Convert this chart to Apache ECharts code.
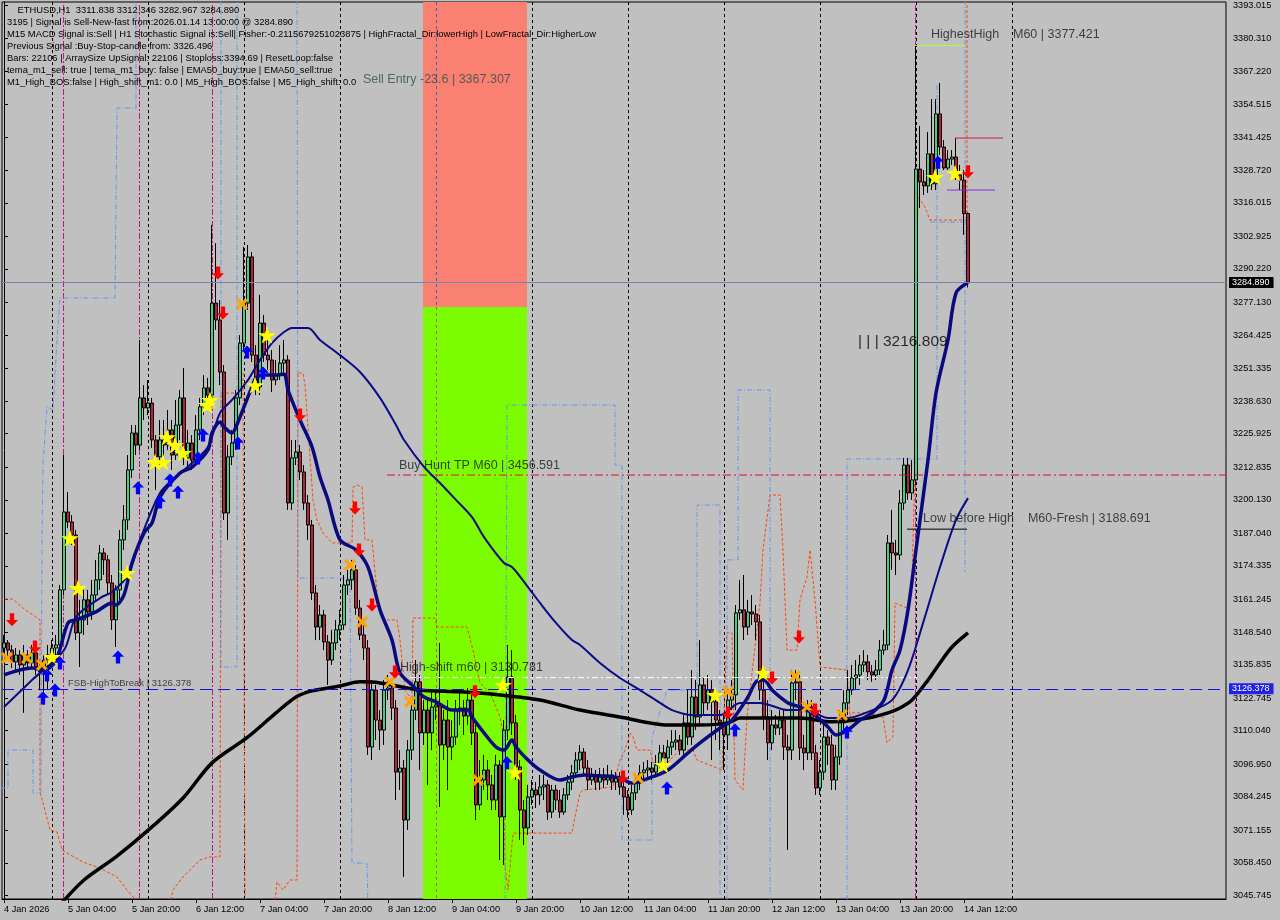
<!DOCTYPE html>
<html><head><meta charset="utf-8">
<script src="https://cdn.jsdelivr.net/npm/echarts@6/dist/echarts.min.js"></script>
<style>html,body{margin:0;padding:0;background:#c0c0c0;}#c{width:1280px;height:920px;}</style>
</head><body><div id="c"></div>
<script>
// ---------- DATA ----------
const headerLines = [
  '    ETHUSD,H1  3311.838 3312.346 3282.967 3284.890',
  '3195 | Signal is Sell-New-fast from:2026.01.14 13:00:00 @ 3284.890',
  'M15 MACD Signal is:Sell | H1 Stochastic Signal is:Sell| Fisher:-0.2115679251023875 | HighFractal_Dir:lowerHigh | LowFractal_Dir:HigherLow',
  'Previous Signal :Buy-Stop-candle from: 3326.496',
  'Bars: 22106 | ArraySize UpSignal: 22106 | Stoploss:3394.69 | ResetLoop:false',
  'tema_m1_sell: true | tema_m1_buy: false | EMA50_buy:true | EMA50_sell:true',
  'M1_High_BOS:false | High_shift_m1: 0.0 | M5_High_BOS:false | M5_High_shift: 0.0'
];
const tickLabels = ['4 Jan 2026','5 Jan 04:00','5 Jan 20:00','6 Jan 12:00','7 Jan 04:00','7 Jan 20:00','8 Jan 12:00','9 Jan 04:00','9 Jan 20:00','10 Jan 12:00','11 Jan 04:00','11 Jan 20:00','12 Jan 12:00','13 Jan 04:00','13 Jan 20:00','14 Jan 12:00'];
const priceTicks = [3393.015,3380.310,3367.220,3354.515,3341.425,3328.720,3316.015,3302.925,3290.220,3277.130,3264.425,3251.335,3238.630,3225.925,3212.835,3200.130,3187.040,3174.335,3161.245,3148.540,3135.835,3122.745,3110.040,3096.950,3084.245,3071.155,3058.450,3045.745];

const firstOpen = 3142.3;
const closes = [
3144.3,3141.5,3136.9,3139.6,3135.7,3139.6,3136.5,3140.4,3134.9,3133.0,
3137.6,3139.6,3142.3,3143.5,3165.0,3195.4,3191.5,3186.4,3148.2,3153.3,
3161.1,3156.4,3163.0,3168.9,3179.4,3176.7,3167.7,3153.3,3165.0,3184.5,
3192.3,3211.8,3226.2,3221.5,3239.9,3236.0,3237.9,3223.5,3216.9,3223.5,
3221.5,3227.4,3217.6,3229.3,3239.9,3216.5,3222.3,3215.7,3227.4,3236.4,
3243.8,3241.0,3276.9,3270.3,3250.0,3195.0,3216.9,3222.3,3239.9,3261.3,
3276.9,3294.9,3256.6,3244.2,3269.1,3256.6,3254.7,3246.9,3248.8,3253.5,
3254.7,3198.9,3216.5,3218.8,3211.0,3198.9,3190.3,3163.8,3150.5,3155.2,
3144.7,3137.6,3144.3,3149.4,3151.3,3166.9,3168.9,3172.8,3157.9,3147.4,
3142.3,3103.7,3125.9,3114.2,3110.3,3125.9,3126.7,3118.9,3093.9,3095.5,
3075.2,3102.5,3118.1,3129.1,3109.2,3118.1,3109.2,3119.3,3120.1,3104.5,
3114.2,3103.7,3107.6,3118.1,3118.9,3115.8,3122.0,3109.2,3081.1,3090.8,
3094.7,3088.9,3083.0,3096.7,3076.4,3110.3,3131.0,3113.1,3095.9,3079.1,
3072.1,3084.2,3086.9,3085.0,3088.1,3088.9,3078.3,3086.9,3083.0,3078.3,
3085.0,3090.0,3093.6,3098.6,3101.7,3095.5,3090.8,3092.4,3090.0,3092.8,
3090.8,3092.8,3090.0,3091.6,3088.1,3084.2,3079.1,3085.8,3089.6,3093.6,
3094.7,3095.5,3093.9,3096.7,3101.4,3099.4,3103.7,3105.6,3106.4,3102.5,
3113.1,3107.6,3123.2,3115.4,3127.9,3120.9,3125.9,3121.3,3114.2,3112.3,
3108.4,3122.0,3124.0,3156.0,3157.2,3150.5,3156.4,3155.6,3152.5,3125.9,
3115.4,3105.3,3112.3,3111.1,3114.2,3103.7,3102.5,3128.7,3129.1,3103.3,
3101.4,3119.3,3101.4,3087.7,3093.9,3107.6,3104.5,3090.8,3099.8,3113.1,
3120.9,3125.9,3130.6,3131.8,3135.7,3136.9,3133.0,3131.8,3133.7,3141.5,
3143.5,3183.3,3179.4,3178.6,3198.9,3213.7,3202.8,3207.9,3329.2,3324.2,
3322.6,3335.1,3323.4,3350.7,3337.8,3329.6,3333.1,3333.9,3326.9,3324.9,
3311.838,3284.890];
const highs = [
3147.4,3145.4,3143.5,3142.3,3141.5,3143.5,3141.5,3143.5,3142.3,3137.6,
3139.6,3143.5,3145.4,3147.4,3166.9,3217.6,3203.2,3194.2,3188.4,3161.1,
3165.0,3165.0,3168.9,3176.7,3182.5,3181.3,3178.6,3170.8,3166.9,3188.4,
3198.1,3217.6,3229.3,3229.3,3262.5,3244.9,3246.9,3239.9,3225.4,3231.3,
3231.3,3235.2,3231.3,3239.1,3243.0,3251.6,3227.4,3225.4,3233.2,3239.9,
3248.8,3247.7,3307.4,3300.3,3278.1,3252.7,3221.5,3227.4,3243.0,3264.4,
3298.8,3299.6,3296.8,3260.5,3280.1,3272.3,3262.5,3258.6,3254.7,3260.5,
3262.5,3256.6,3223.5,3223.5,3221.5,3213.7,3202.0,3192.3,3166.9,3159.1,
3157.2,3147.4,3149.4,3153.3,3157.2,3170.8,3172.8,3176.7,3174.7,3161.1,
3151.3,3145.4,3129.8,3127.9,3118.1,3129.8,3131.8,3129.8,3122.0,3102.5,
3098.6,3106.4,3122.0,3137.6,3131.8,3122.0,3122.0,3125.9,3125.9,3144.3,
3118.1,3122.0,3114.2,3122.0,3125.9,3122.0,3126.7,3124.0,3112.3,3098.6,
3100.6,3098.6,3092.8,3100.6,3098.6,3114.2,3143.5,3141.5,3116.2,3098.6,
3083.0,3088.9,3090.8,3090.0,3092.8,3092.8,3090.8,3088.9,3088.9,3086.9,
3087.7,3092.8,3096.7,3101.7,3104.5,3103.3,3098.6,3095.5,3094.7,3095.5,
3095.5,3096.7,3094.7,3093.9,3093.9,3090.8,3086.9,3088.9,3092.8,3096.7,
3097.8,3098.6,3097.8,3100.6,3104.5,3104.5,3106.4,3110.3,3110.3,3108.4,
3116.2,3125.9,3133.7,3129.8,3145.4,3130.6,3131.8,3129.8,3124.0,3118.1,
3116.2,3125.9,3129.8,3159.1,3168.9,3170.8,3161.1,3163.0,3159.1,3155.2,
3133.7,3122.0,3118.1,3116.2,3118.1,3118.1,3108.4,3133.7,3133.7,3131.8,
3108.4,3122.0,3122.0,3104.5,3098.6,3112.3,3110.3,3108.4,3104.5,3118.1,
3125.9,3133.7,3135.7,3137.6,3139.6,3141.5,3139.6,3135.7,3137.6,3145.4,
3149.4,3186.4,3196.2,3184.5,3204.0,3216.5,3216.5,3215.7,3377.4,3346.0,
3328.8,3343.7,3356.5,3356.5,3362.8,3340.5,3336.6,3336.6,3341.3,3330.8,
3328.8,3312.346];
const lows = [
3139.6,3137.6,3134.5,3133.7,3131.8,3117.0,3133.7,3134.5,3131.8,3125.9,
3120.1,3125.9,3135.7,3137.6,3141.5,3163.0,3189.1,3182.5,3145.4,3134.9,
3147.4,3151.3,3153.3,3161.1,3165.0,3170.8,3163.0,3149.4,3142.7,3161.1,
3180.6,3188.4,3208.7,3217.6,3219.6,3231.3,3233.2,3220.4,3204.0,3213.7,
3215.7,3219.6,3211.8,3215.7,3223.5,3213.7,3211.8,3211.8,3213.7,3223.5,
3233.2,3237.1,3239.9,3266.4,3244.9,3192.3,3184.5,3213.7,3219.6,3237.1,
3258.6,3274.2,3253.9,3241.0,3241.0,3253.9,3250.8,3242.2,3244.9,3246.9,
3250.0,3196.2,3196.2,3213.7,3207.9,3196.2,3184.5,3161.1,3145.4,3145.4,
3141.5,3127.9,3135.7,3141.5,3145.4,3149.4,3163.0,3165.0,3155.2,3145.4,
3137.6,3100.6,3098.6,3106.4,3102.5,3104.5,3122.0,3114.2,3083.0,3086.9,
3053.0,3071.3,3098.6,3114.2,3094.7,3104.5,3088.9,3102.5,3114.2,3080.3,
3098.6,3086.9,3098.6,3104.5,3112.3,3108.4,3112.3,3104.5,3075.2,3079.1,
3086.9,3083.0,3079.1,3079.1,3059.6,3057.7,3106.4,3108.4,3090.8,3067.4,
3065.5,3069.4,3081.1,3079.9,3081.1,3083.0,3075.2,3076.0,3079.1,3076.0,
3077.2,3083.0,3086.9,3091.6,3094.7,3092.8,3086.9,3088.9,3086.9,3086.9,
3087.7,3088.9,3086.9,3086.9,3085.0,3077.2,3076.0,3077.2,3083.0,3086.9,
3090.8,3091.6,3090.8,3092.8,3094.7,3094.7,3096.7,3100.6,3102.5,3100.6,
3100.6,3104.5,3104.5,3110.3,3112.3,3116.2,3118.1,3098.6,3106.4,3102.5,
3094.7,3102.5,3118.1,3118.1,3153.3,3145.4,3147.4,3151.3,3145.4,3122.0,
3110.3,3098.6,3102.5,3108.4,3108.4,3098.6,3063.5,3098.6,3122.0,3098.6,
3094.7,3098.6,3098.6,3085.0,3085.0,3090.8,3096.7,3086.9,3086.9,3096.7,
3110.3,3116.2,3124.0,3125.9,3127.9,3133.0,3129.8,3129.1,3129.8,3131.8,
3139.6,3141.5,3172.8,3170.8,3176.7,3196.2,3200.1,3200.1,3205.9,3314.0,
3319.1,3319.9,3321.0,3321.0,3334.7,3328.8,3328.8,3330.8,3324.9,3321.0,
3303.5,3282.967];

// indicator lines [slot, price]
const fastLine = [[0,3131.8],[7,3134.5],[10,3133.7],[13,3137.6],[16,3152.1],[18,3153.3],[23,3156.4],[27,3159.9],[28,3159.1],[30,3163.0],[32,3175.5],[35,3187.2],[37,3191.1],[39,3201.2],[44,3210.6],[47,3212.9],[51,3219.6],[52,3226.2],[54,3230.5],[55,3228.6],[57,3226.2],[58,3228.6],[60,3236.4],[62,3244.2],[63,3247.7],[65,3248.8],[68,3248.8],[70,3249.2],[71,3243.0],[74,3231.3],[77,3220.8],[79,3209.0],[81,3200.1],[84,3184.5],[88,3180.6],[91,3173.9],[94,3157.2],[97,3145.4],[99,3132.6],[102,3127.9],[105,3123.2],[108,3121.3],[112,3118.1],[116,3118.1],[117,3115.4],[120,3109.2],[123,3103.7],[125,3102.5],[127,3106.4],[128,3103.7],[131,3098.6],[134,3094.7],[139,3090.8],[142,3092.0],[145,3092.8],[149,3092.4],[154,3091.6],[157,3089.6],[162,3092.0],[166,3094.7],[171,3101.4],[174,3105.3],[179,3111.1],[182,3114.2],[186,3123.2],[188,3129.1],[190,3129.8],[192,3125.9],[196,3120.9],[199,3119.3],[202,3117.0],[206,3111.5],[208,3108.4],[211,3110.3],[214,3114.2],[217,3117.0],[220,3122.0],[222,3133.7],[224,3141.5],[226,3157.2],[228,3180.6],[231,3215.7],[233,3241.8],[236,3262.5],[238,3280.8],[241,3284.9]];
const midLine = [[0,3119.3],[7,3129.8],[15,3141.5],[18,3154.4],[24,3161.8],[27,3164.2],[31,3170.8],[34,3184.5],[39,3202.8],[43,3209.1],[47,3214.5],[51,3220.8],[54,3234.0],[57,3239.1],[61,3246.9],[64,3254.7],[67,3261.3],[70,3265.6],[72,3267.2],[76,3267.2],[79,3262.5],[84,3256.6],[89,3250.0],[94,3239.9],[98,3229.3],[100,3223.5],[105,3213.0],[109,3206.7],[113,3200.1],[117,3193.4],[120,3185.6],[125,3175.5],[127,3173.9],[131,3166.1],[134,3159.9],[138,3152.1],[142,3145.4],[144,3143.5],[149,3136.5],[154,3130.6],[159,3125.9],[164,3120.9],[167,3118.1],[172,3116.2],[179,3116.2],[184,3120.9],[189,3120.9],[196,3118.1],[201,3118.1],[206,3115.0],[211,3115.0],[216,3117.4],[222,3122.0],[226,3133.7],[230,3153.3],[234,3173.9],[238,3192.3],[241,3200.8]];
const slowLine = [[14,3042.1],[20,3051.8],[28,3060.8],[37,3072.5],[45,3084.2],[52,3097.5],[61,3107.6],[68,3117.0],[73,3123.2],[77,3125.6],[84,3127.5],[89,3129.1],[94,3128.7],[104,3125.9],[114,3125.2],[124,3124.0],[134,3122.0],[144,3118.1],[154,3115.4],[166,3112.3],[174,3112.3],[181,3113.1],[184,3115.0],[191,3115.0],[199,3115.0],[207,3113.5],[216,3115.0],[221,3117.0],[224,3118.9],[227,3122.0],[231,3129.8],[234,3136.5],[237,3142.7],[241,3148.2]];

// stepped channel lines (segments)
const orangeSegs = [
 [[-1,3161.4],[2.25,3161.4],[4.75,3157.9],[6.5,3156.0],[9,3153.3],[9,3085.8],[9.75,3081.9],[11.5,3071.3],[13.25,3070.5],[14.5,3063.5],[15.75,3062.3],[19.75,3058.8],[23.25,3056.9],[28.25,3053.0],[30.75,3047.9],[34,3042.1]],
 [[41.5,3042.1],[42.25,3047.9],[44.75,3053.0],[46.5,3055.7],[49,3059.6],[51.5,3060.8],[54,3060.8],[54.25,3241.8],[58.5,3241.8],[59,3249.6],[59.75,3249.6],[60.25,3040.1]],
 [[67.75,3044.0],[68.25,3051.0],[69.75,3047.9],[71.5,3051.8],[73.25,3051.8],[73.5,3249.6],[74.75,3249.6],[75.25,3244.9],[77.25,3200.1],[78.25,3192.3],[79.75,3187.2],[82,3183.3],[87,3183.3],[87.25,3205.1],[88.25,3205.9],[89.5,3205.1],[90.25,3184.5],[92,3184.5],[93.25,3163.8],[94.75,3153.3],[98.25,3153.3],[99,3145.4],[100.25,3125.9],[102,3122.0],[102.25,3154.0],[107.75,3154.0],[108.25,3150.5],[115.75,3150.5],[117.25,3141.5],[119,3128.7],[121.5,3124.8],[124,3115.4],[124.75,3109.2],[125.25,3056.9],[126,3047.9],[127.25,3070.1],[142,3070.1],[142.75,3076.4],[144,3085.8],[144.75,3086.9],[152.25,3088.1],[154,3098.6],[155.25,3102.5],[156.5,3109.2],[157.25,3107.6],[158.25,3102.5],[161.5,3102.5],[162.25,3097.5],[165.75,3097.5],[169,3102.5],[172.25,3102.5],[173.25,3098.6],[179.5,3094.7],[180.75,3148.2],[182,3148.2],[182.75,3090.8],[184.75,3086.9],[185.75,3115.4],[189,3159.9],[189.75,3180.6],[191.5,3202.0],[194,3202.0],[194.75,3180.6],[195.75,3141.5],[198.25,3141.5],[199,3161.1],[200.75,3170.0],[201.5,3180.6],[202.75,3161.1],[204,3134.9],[210.75,3133.7],[211.5,3115.4],[212,3117.0],[215.75,3117.0],[219.75,3115.4],[220.75,3105.3],[222.25,3107.6],[222.75,3159.9],[225.75,3157.9],[227,3168.9],[227.75,3212.9],[228,3278.1],[228.5,3318.3],[230.25,3314.4],[231.5,3309.3],[240.75,3309.3],[240.75,3399.1]]
];
const blueSegs = [
 [[-1,3087.7],[1,3087.7],[1,3102.5],[7.25,3102.5],[7.25,3085.8],[9.25,3085.8],[9.5,3184.5],[9.75,3214.5],[10.75,3236.4],[12.25,3235.2],[13.25,3262.5],[14,3278.9],[27.75,3278.9],[28.25,3353.0],[33,3353.0],[33,3399.1]],
 [[54.25,3399.1],[54.25,3134.9],[58.25,3134.9],[58.25,3399.1]],
 [[73.25,3399.1],[73.5,3169.6],[86.5,3169.6],[87,3058.4],[90.75,3058.4],[91,3040.1]],
 [[125.25,3040.1],[125.75,3237.1],[152.75,3237.1],[152.75,3213.7],[154.5,3213.7],[154.5,3067.4],[162,3067.4],[162,3107.6],[165.75,3125.9],[173.25,3125.9],[173.25,3198.1],[179,3198.1],[179,3040.1]],
 [[180.75,3040.1],[180.75,3176.7],[183.5,3176.7],[183.5,3243.0],[191.5,3243.0],[191.5,3040.1]],
 [[210.75,3040.1],[210.75,3216.1],[233.25,3216.1],[233.25,3362.8]],
 [[240.25,3399.1],[240.25,3172.0]],
 [[231.5,3308.5],[240.25,3308.5]]
];

// levels
const lastPrice = 3284.890;
const fsbLevel = 3126.378;
const highShiftLevel = 3130.781;
const buyHuntLevel = 3209.8;
const highestHigh = 3377.421;
const lowBeforeHigh = 3188.691;
const redShortLevel = 3341.3;
const purpleShortLevel = 3321.0;
const zoneSlots = [104.75, 130.75];
const zoneSplit = 3275.4;
const daySlots = [12,36,60,84,132,156,180,204,228,252];
const zoneDaySlot = 108;
const magentaSlots = [14.8,33.8,52,227.8];

// signal markers [slot, price]
const stars = [[16.5,3185.2],[18.5,3165.7],[30.75,3171.6],[12,3138.8],[37.75,3214.9],[39.75,3214.9],[40.75,3224.6],[42.75,3221.5],[44.75,3218.4],[50.75,3237.1],[51.5,3239.1],[62.75,3244.9],[65.75,3264.4],[124.75,3127.9],[127.75,3093.9],[164.75,3096.7],[177.75,3124.0],[189.75,3132.6],[232.75,3326.1],[237.75,3327.7]];
const upArrows = [[9.75,3122.8],[12.75,3125.9],[10.75,3131.8],[14,3136.5],[28.5,3138.8],[33.5,3204.8],[39,3199.3],[41.5,3207.9],[43.5,3203.2],[48.5,3216.5],[49.75,3225.4],[58.5,3222.3],[60.75,3257.8],[64.75,3249.6],[125.75,3097.5],[165.75,3087.7],[182.75,3110.3],[210.75,3109.5],[233.5,3331.9]];
const downArrows = [[2,3153.3],[7.75,3142.7],[53.5,3288.6],[54.75,3273.0],[74,3233.2],[87.75,3196.9],[88.75,3180.6],[92,3159.1],[97.75,3133.0],[117.75,3125.2],[154.75,3092.0],[181,3117.0],[192,3130.6],[198.75,3146.6],[202.75,3118.1],[241,3328.1]];
const crosses = [[0.75,3138.4],[5.75,3138.4],[9.5,3135.7],[59.5,3276.5],[86.5,3174.7],[89.5,3152.5],[96.5,3129.1],[101.5,3121.3],[118.5,3090.8],[158.5,3091.6],[181,3125.2],[197.75,3131.4],[200.75,3119.3],[209.5,3116.2]];

// annotation texts and their anchors [slot, price]
const annoTexts = ['Sell Entry -23.6 | 3367.307','Buy Hunt TP M60 | 3456.591','High-shift m60 | 3130.781','FSB-HighToBreak | 3126.378','HighestHigh    M60 | 3377.421','Low before High    M60-Fresh | 3188.691','| | | 3216.809'];
const annoAnchors = [[89.75,3364.3],[98.75,3213.7],[99,3134.5],[16,3128.7],[231.75,3381.5],[229.75,3192.7],[213.5,3261.7]];

// ---------- CHART ----------
const NSLOTS = 306;
const slots = Array.from({length: NSLOTS}, (_, i) => String(i));
const yMin = 3044.38, yMax = 3394.38;
const FONT = 'Liberation Sans';
const candles = closes.map((c, i) => [i === 0 ? firstOpen : closes[i - 1], c, lows[i], highs[i]]);
const showTick = (idx) => idx % 16 === 0 && idx / 16 < tickLabels.length;

const P_STAR = 'path://M50,0 L61,35 L98,35 L68,57 L79,91 L50,70 L21,91 L32,57 L2,35 L39,35 Z';
const P_UP = 'path://M50,0 L100,48 L68,48 L68,100 L32,100 L32,48 L0,48 Z';
const P_DOWN = 'path://M32,0 L68,0 L68,52 L100,52 L50,100 L0,52 L32,52 Z';
const P_X = 'path://M0,18 L18,0 L50,32 L82,0 L100,18 L68,50 L100,82 L82,100 L50,68 L18,100 L0,82 L32,50 Z';

const series = [];
// background zones + separators
series.push({
  type: 'line', xAxisIndex: 1, data: [[-5, 3200]], symbol: 'none', lineStyle: {opacity: 0}, z: 1, silent: true,
  markArea: {silent: true, z: 1, data: [
    [{coord: [zoneSlots[0], yMax], itemStyle: {color: '#fa8072', opacity: 1}}, {coord: [zoneSlots[1], zoneSplit]}],
    [{coord: [zoneSlots[0], zoneSplit], itemStyle: {color: '#7cfc00', opacity: 1}}, {coord: [zoneSlots[1], yMin]}]
  ]},
  markLine: {silent: true, z: 2, symbol: ['none','none'], label: {show: false}, animation: false,
    data: [
      ...daySlots.map(s => ({xAxis: s, lineStyle: {color: '#000', type: [3,3], width: 1}})),
      [{coord: [zoneDaySlot, yMax], lineStyle: {color: '#1f6fd0', type: [3,3], width: 1}}, {coord: [zoneDaySlot, zoneSplit]}],
      [{coord: [zoneDaySlot, zoneSplit], lineStyle: {color: '#c0508a', type: [3,3], width: 1}}, {coord: [zoneDaySlot, yMin]}],
      ...magentaSlots.map(s => ({xAxis: s, lineStyle: {color: '#c71585', type: [6,2,2,2], width: 1}}))
    ]}
});
// stepped channel lines
orangeSegs.forEach(seg => series.push({type: 'line', xAxisIndex: 1, data: seg, symbol: 'none', silent: true, z: 2,
  lineStyle: {color: '#ff4500', width: 1, type: [3,2]}}));
blueSegs.forEach(seg => series.push({type: 'line', xAxisIndex: 1, data: seg, symbol: 'none', silent: true, z: 2,
  lineStyle: {color: '#6495ed', width: 1, type: [5,2,1,2]}}));
// candles with price tags
series.push({
  type: 'candlestick', xAxisIndex: 0, data: candles, barWidth: 3, z: 3,
  itemStyle: {color: '#3cd47e', color0: '#b8213a', borderColor: '#000', borderColor0: '#000', borderWidth: 1},
  markLine: {silent: true, symbol: ['none','none'], animation: false, data: [
    {yAxis: lastPrice, lineStyle: {color: '#7487aa', type: 'solid', width: 1},
     label: {show: true, position: 'end', distance: 3, formatter: lastPrice.toFixed(3), color: '#fff', backgroundColor: '#000', padding: [1,4,1,3], fontFamily: FONT, fontSize: 9}},
    {yAxis: fsbLevel, lineStyle: {color: '#1010e0', type: [12,6], width: 1},
     label: {show: true, position: 'end', distance: 3, formatter: fsbLevel.toFixed(3), color: '#fff', backgroundColor: '#2222e6', padding: [1,4,1,3], fontFamily: FONT, fontSize: 9}}
  ]}
});
// level segments
const seg = (data, color, type, width) => ({type: 'line', xAxisIndex: 1, data, symbol: 'none', silent: true, z: 4, lineStyle: {color, type, width}});
series.push(seg([[95.75, buyHuntLevel],[305.5, buyHuntLevel]], '#e0102a', [8,3,2,3], 1));
series.push(seg([[101.5, highShiftLevel],[228.25, highShiftLevel]], '#ffffff', [6,3,2,3], 1));
series.push(seg([[227.75, highestHigh],[240.25, highestHigh]], '#adff2f', 'solid', 1));
series.push(seg([[237.75, redShortLevel],[249.75, redShortLevel]], '#dc143c', 'solid', 1));
series.push(seg([[235.75, purpleShortLevel],[247.75, purpleShortLevel]], '#8a2be2', 'solid', 1));
series.push(seg([[225.75, lowBeforeHigh],[240.75, lowBeforeHigh]], '#000000', 'solid', 1));
// moving averages
series.push({type: 'line', xAxisIndex: 1, data: slowLine, symbol: 'none', smooth: 0.3, silent: true, z: 4, lineStyle: {color: '#000', width: 3.5}});
series.push({type: 'line', xAxisIndex: 1, data: midLine, symbol: 'none', smooth: 0.3, silent: true, z: 4, lineStyle: {color: '#0b0b86', width: 2}});
series.push({type: 'line', xAxisIndex: 1, data: fastLine, symbol: 'none', smooth: 0.3, silent: true, z: 4, lineStyle: {color: '#0a0a80', width: 3.5}});
// signal markers
const sc = (data, symbol, size, color) => ({type: 'scatter', xAxisIndex: 1, data, symbol, symbolSize: size, silent: true, z: 5, itemStyle: {color, opacity: 1}});
series.push(sc(crosses, P_X, [12,12], '#ffa500'));
series.push(sc(stars, P_STAR, [18,17], '#ffff00'));
series.push(sc(upArrows, P_UP, [12,13], '#0000ff'));
series.push(sc(downArrows, P_DOWN, [12,13], '#ff0000'));
// annotation texts
const annoStyle = [
  {fontSize: 12.5, color: '#2f4f4f'},{fontSize: 12.5, color: '#1a1a1a'},{fontSize: 12.5, color: '#1a1a1a'},
  {fontSize: 9.5, color: '#1a1a1a'},{fontSize: 12.5, color: '#1a1a1a'},{fontSize: 12.5, color: '#1a1a1a'},{fontSize: 15.5, color: '#000'}];
series.push({type: 'scatter', xAxisIndex: 1, symbolSize: 0, silent: true, z: 6,
  data: annoTexts.map((t, i) => ({value: annoAnchors[i],
    label: {show: true, position: 'right', distance: 0, formatter: t, fontFamily: FONT, fontSize: annoStyle[i].fontSize, color: annoStyle[i].color}}))
});

const option = {
  animation: false,
  backgroundColor: '#c0c0c0',
  title: {text: headerLines.join('\n'), left: 7, top: 4, padding: 0,
    textStyle: {fontFamily: FONT, fontSize: 9.4, fontWeight: 'normal', color: '#000', lineHeight: 12}},
  grid: {left: 2, top: 2, width: 1224, height: 897, show: true, borderColor: '#000', borderWidth: 1, backgroundColor: 'transparent'},
  xAxis: [
    {type: 'category', data: slots, boundaryGap: true,
     axisLine: {lineStyle: {color: '#000', width: 1}},
     axisTick: {show: true, interval: showTick, alignWithLabel: true, length: 4, lineStyle: {color: '#000'}},
     axisLabel: {interval: showTick, formatter: (v, i) => tickLabels[Math.round(Number(v) / 16)], align: 'left', color: '#000', fontFamily: FONT, fontSize: 9.2, margin: 6},
     splitLine: {show: false}},
    {type: 'value', min: -0.5, max: NSLOTS - 0.5, show: false, splitLine: {show: false}}
  ],
  yAxis: {type: 'value', position: 'right', min: yMin, max: yMax,
    axisLine: {show: true, lineStyle: {color: '#000', width: 1}},
    axisTick: {show: true, length: 4, customValues: priceTicks, lineStyle: {color: '#000'}},
    axisLabel: {customValues: priceTicks, formatter: v => Number(v).toFixed(3), color: '#000', fontFamily: FONT, fontSize: 9.2, margin: 7},
    splitLine: {show: false}},
  series
};
const chart = echarts.init(document.getElementById('c'), null, {renderer: 'canvas'});
chart.setOption(option);
</script>
</body></html>
